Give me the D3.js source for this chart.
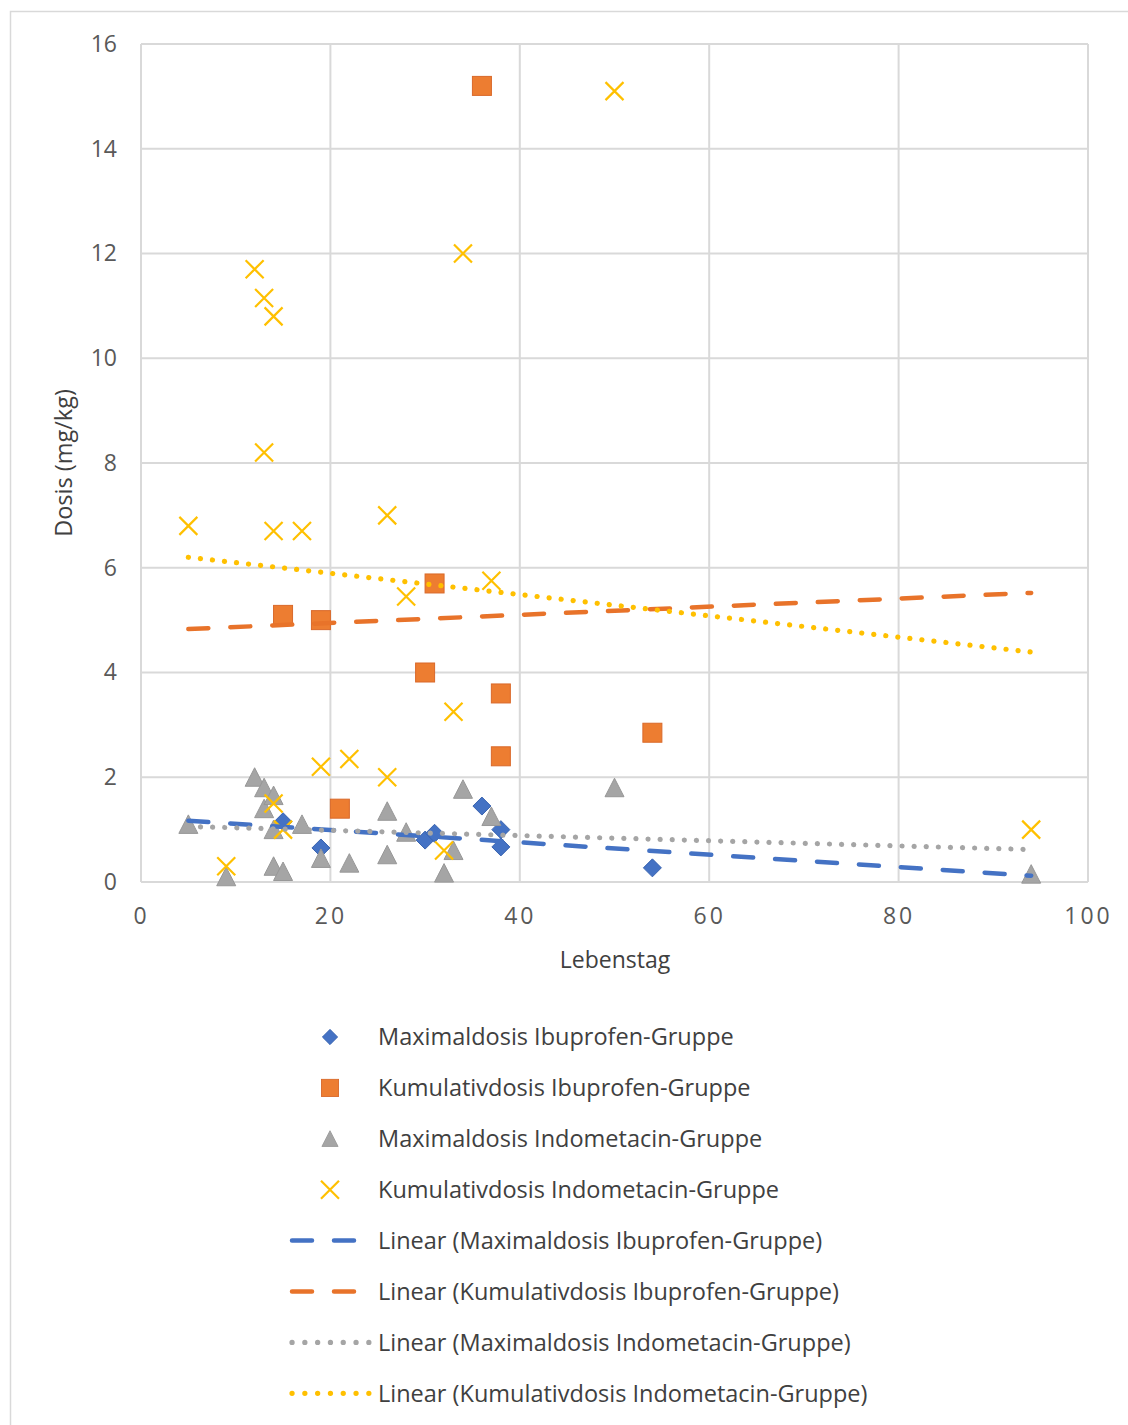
<!DOCTYPE html>
<html><head><meta charset="utf-8">
<script src="https://cdn.jsdelivr.net/npm/d3@7"></script>
<style>body{margin:0;background:#fff}svg{display:block}text{font-family:"Open Sans",sans-serif}</style>
</head><body><svg id="c" width="1128" height="1425"></svg>
<script>
// Lebenstag (x) per patient
const ibuX = [15, 19, 30, 31, 36, 38, 38, 54];
const maxIbuY = [1.15, 0.65, 0.8, 0.93, 1.45, 1.0, 0.67, 0.27];
const cumIbuX = [15, 19, 21, 30, 31, 36, 38, 38, 54];
const cumIbuY = [5.1, 5.0, 1.4, 4.0, 5.7, 15.2, 3.6, 2.4, 2.85];
const indoX = [5, 9, 12, 13, 13, 14, 14, 14, 15, 17, 19, 22, 26, 26, 28, 32, 33, 34, 37, 50, 94];
const maxIndoY = [1.1, 0.1, 2.0, 1.8, 1.4, 1.65, 1.0, 0.3, 0.2, 1.1, 0.45, 0.36, 1.35, 0.52, 0.95, 0.17, 0.6, 1.77, 1.25, 1.8, 0.15];
const cumIndoX = [5, 9, 12, 13, 13, 14, 14, 14, 15, 17, 19, 22, 26, 26, 28, 32, 33, 34, 37, 50, 94];
const cumIndoY = [6.8, 0.3, 11.7, 11.15, 8.2, 10.8, 6.7, 1.5, 1.0, 6.7, 2.2, 2.35, 7.0, 2.0, 5.45, 0.6, 3.25, 12.0, 5.75, 15.1, 1.0];
// trend line endpoints
const trendX = [5, 94];
const trendMaxIbu = [1.17, 0.12];
const trendCumIbu = [4.83, 5.52];
const trendMaxIndo = [1.06, 0.62];
const trendCumIndo = [6.2, 4.39];
const xTicks = [0, 20, 40, 60, 80, 100];
const yTicks = [0, 2, 4, 6, 8, 10, 12, 14, 16];
const legendLabels = ["Maximaldosis Ibuprofen-Gruppe","Kumulativdosis Ibuprofen-Gruppe","Maximaldosis Indometacin-Gruppe","Kumulativdosis Indometacin-Gruppe","Linear (Maximaldosis Ibuprofen-Gruppe)","Linear (Kumulativdosis Ibuprofen-Gruppe)","Linear (Maximaldosis Indometacin-Gruppe)","Linear (Kumulativdosis Indometacin-Gruppe)"];

const C = {blue:"#4472C4", orange:"#ED7D31", gray:"#A5A5A5", yellow:"#FFC000"};
const svg = d3.select("#c");
const L = 141, R = 1088, T = 44, B = 882;
const x = d3.scaleLinear().domain([0,100]).range([L,R]);
const y = d3.scaleLinear().domain([0,16]).range([B,T]);

// outer chart border
svg.append("rect").attr("x",10.5).attr("y",11.5).attr("width",1200).attr("height",1500)
  .attr("fill","none").attr("stroke","#d9d9d9").attr("stroke-width",1.5);

// gridlines
const g = svg.append("g");
g.selectAll(".gx").data(xTicks).join("line").attr("x1",d=>x(d)).attr("x2",d=>x(d)).attr("y1",T).attr("y2",B)
  .attr("stroke","#d9d9d9").attr("stroke-width",2);
g.selectAll(".gy").data(yTicks).join("line").attr("y1",d=>y(d)).attr("y2",d=>y(d)).attr("x1",L).attr("x2",R)
  .attr("stroke","#d9d9d9").attr("stroke-width",2);

// axes (labels only, via d3 axis)
const ax = svg.append("g").attr("transform",`translate(0,${B})`).call(d3.axisBottom(x).tickValues(xTicks).tickSize(0).tickPadding(26));
ax.select(".domain").remove();
ax.selectAll("text").attr("font-family","Open Sans").attr("font-size",23).attr("fill","#595959").attr("letter-spacing","3px");
const ay = svg.append("g").attr("transform",`translate(${L},0)`).call(d3.axisLeft(y).tickValues(yTicks).tickSize(0).tickPadding(24));
ay.select(".domain").remove();
ay.selectAll("text").attr("font-family","Open Sans").attr("font-size",23).attr("fill","#595959");

svg.append("text").attr("x",615).attr("y",968).attr("text-anchor","middle").attr("font-size",23).attr("fill","#404040").text("Lebenstag");
svg.append("text").attr("transform","translate(72,463) rotate(-90)").attr("text-anchor","middle").attr("font-size",23.5).attr("fill","#404040").text("Dosis (mg/kg)");

// markers
function marker(sel, type){
  if(type==="diamond") sel.append("path").attr("d","M0,-9L9,0L0,9L-9,0Z").attr("fill",C.blue).attr("stroke","#3a64b0").attr("stroke-width",1);
  if(type==="square") sel.append("rect").attr("x",-9.5).attr("y",-9.5).attr("width",19).attr("height",19).attr("fill",C.orange).attr("stroke","#d9692a").attr("stroke-width",1);
  if(type==="triangle") sel.append("path").attr("d","M0,-9.5L9.5,9L-9.5,9Z").attr("fill",C.gray).attr("stroke","#979797").attr("stroke-width",1);
  if(type==="x") sel.append("path").attr("d","M-9,-9L9,9M-9,9L9,-9").attr("stroke",C.yellow).attr("stroke-width",2.2).attr("fill","none");
}
function points(xs, ys, type){
  const gg = svg.append("g");
  xs.forEach((xv,i)=>{ const m = gg.append("g").attr("transform",`translate(${x(xv)},${y(ys[i])})`); marker(m,type); });
}
points(ibuX, maxIbuY, "diamond");
points(cumIbuX, cumIbuY, "square");
points(indoX, maxIndoY, "triangle");
points(cumIndoX, cumIndoY, "x");

// trend lines
const line = d3.line().x(d=>x(d[0])).y(d=>y(d[1]));
function trend(ys, color, dash, w){
  svg.append("path").attr("d", line(trendX.map((v,i)=>[v, ys[i]]))).attr("fill","none")
    .attr("stroke",color).attr("stroke-width",w).attr("stroke-linecap","round").attr("stroke-dasharray",dash);
}
trend(trendMaxIbu, C.blue, "20 22", 4.5);
trend(trendCumIbu, "#E8732A", "20 22", 4.5);
trend(trendMaxIndo, C.gray, "0.1 12", 5.2);
trend(trendCumIndo, C.yellow, "0.1 12", 5.2);

// legend
const lg = svg.append("g");
const lTypes = ["diamond","square","triangle","x"];
legendLabels.forEach((t,i)=>{
  const yy = 1037 + i*50.9;
  if(i<4){ const m = lg.append("g").attr("transform",`translate(330,${yy})`+(i===2?" scale(0.85)":"")+(i===0?" scale(0.85)":"")+(i===1?" scale(0.9)":"")); marker(m,lTypes[i]); }
  else {
    const cols = ["#4472C4","#E8732A",C.gray,C.yellow];
    const dash = i<6 ? "20 22" : "0.1 12.7";
    lg.append("line").attr("x1",292).attr("x2",i<6?357:369).attr("y1",yy).attr("y2",yy)
      .attr("stroke",cols[i-4]).attr("stroke-width",i<6?4.5:5.2).attr("stroke-linecap","round").attr("stroke-dasharray",dash);
  }
  lg.append("text").attr("x",378).attr("y",yy).attr("dy","0.36em").attr("font-size",23.5).attr("fill","#404040").text(t);
});
</script></body></html>
